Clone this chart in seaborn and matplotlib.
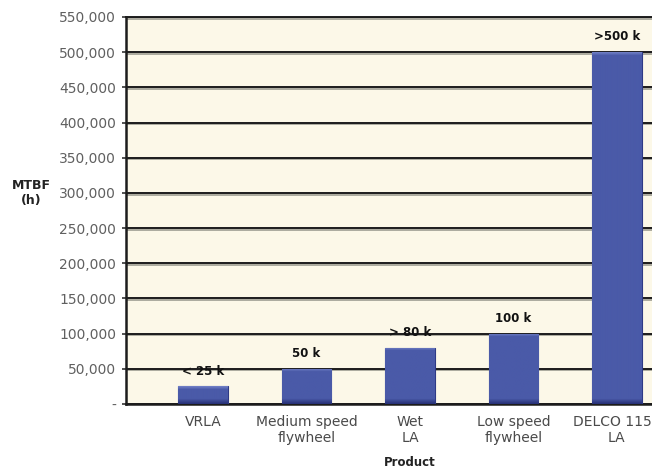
import numpy as np
import pandas as pd
import matplotlib
matplotlib.use("Agg")
import matplotlib.pyplot as plt
import matplotlib.patheffects as pe
from matplotlib.ticker import FuncFormatter, MultipleLocator
import seaborn as sns

# MTBF by product (hours)
products = ["VRLA", "Medium speed\nflywheel", "Wet\nLA", "Low speed\nflywheel", "DELCO 1150\nLA"]
mtbf_hours = [25000, 50000, 80000, 100000, 500000]
value_labels = ["< 25 k", "50 k", "> 80 k", "100 k", ">500 k"]

sns.set_theme(style="white")
plt.rcParams["font.family"] = ["DejaVu Sans"]

W, H = 652, 471
fig = plt.figure(figsize=(W / 100, H / 100), dpi=100)
fig.patch.set_facecolor("white")
ax = fig.add_axes([126 / W, 67 / H, 568 / W, 387 / H])

df = pd.DataFrame({"Product": products, "MTBF": mtbf_hours})
sns.barplot(data=df, x="Product", y="MTBF", color="#4A5AA8", saturation=1,
            width=0.48, edgecolor="#2E3A86", linewidth=0.8, ax=ax, zorder=3)

ax.set_xlim(-0.745, 4.745)
ax.set_ylim(0, 550000)
ax.set_facecolor("#FCF8E8")

# shaded fill inside each bar: darker base, lighter top edge
fig.canvas.draw()
for patch in ax.patches:
    x0, y0 = patch.get_x(), patch.get_y()
    w, h = patch.get_width(), patch.get_height()
    (_, py0), (_, py1) = ax.transData.transform([(x0, y0), (x0, y0 + h)])
    npx = max(int(round(py1 - py0)), 2)
    base = np.array([74, 90, 168]) / 255.0
    dark = np.array([40, 50, 120]) / 255.0
    light = np.array([110, 125, 196]) / 255.0
    rows = np.tile(base, (npx, 1))
    for i in range(min(5, npx)):
        t = i / 5.0
        rows[i] = dark * (1 - t) + base * t
    for i in range(min(3, npx)):
        t = i / 3.0
        rows[npx - 1 - i] = light * (1 - t) + base * t
    img = rows[::-1][:, None, :]
    im = ax.imshow(img, extent=(x0, x0 + w, y0, y0 + h), aspect="auto",
                   interpolation="bilinear", zorder=3.5)
    im.set_clip_path(patch)
ax.set_xlim(-0.745, 4.745)
ax.set_ylim(0, 550000)

# horizontal grid with a soft shadow
ax.yaxis.set_major_locator(MultipleLocator(50000))
ax.grid(axis="y", color="#1c1c1c", linewidth=1.4)
ax.grid(axis="x", visible=False)
ax.set_axisbelow(True)
for gl in ax.get_ygridlines():
    gl.set_path_effects([pe.SimpleLineShadow(offset=(0.3, -1.2), shadow_color="#8a8a80", alpha=0.7),
                         pe.Normal()])

ax.yaxis.set_major_formatter(FuncFormatter(lambda v, p: "-" if v == 0 else f"{v:,.0f}"))
ax.tick_params(axis="y", left=True, length=3, width=1.2, color="#333333",
               labelcolor="#606060", labelsize=10, pad=4)
ax.tick_params(axis="x", length=0, labelsize=10, labelcolor="#4a4a4a", pad=8)

for side in ("left", "bottom", "top", "right"):
    ax.spines[side].set_color("#1c1c1c")
    ax.spines[side].set_linewidth(1.8)
ax.spines["top"].set_linewidth(1.4)

# value labels above bars
for i, (val, txt) in enumerate(zip(mtbf_hours, value_labels)):
    ax.annotate(txt, (i, val), xytext=(0, 11), textcoords="offset points",
                ha="center", va="center", fontsize=8.5, fontweight="bold",
                color="#111111", zorder=5)

ax.set_xlabel("Product", fontsize=8.5, fontweight="bold", color="#222222")
ax.xaxis.label.set_va("center")
ax.xaxis.set_label_coords(0.5, -(463 - 404) / 387)

ax.set_ylabel("MTBF\n(h)", fontsize=9, fontweight="bold", color="#222222",
              rotation=0, ha="center", va="center", linespacing=1.25)
ax.yaxis.set_label_coords((31 - 126) / 568, (404 - 193) / 387)

fig.savefig("out.png", dpi=100, facecolor="white")
